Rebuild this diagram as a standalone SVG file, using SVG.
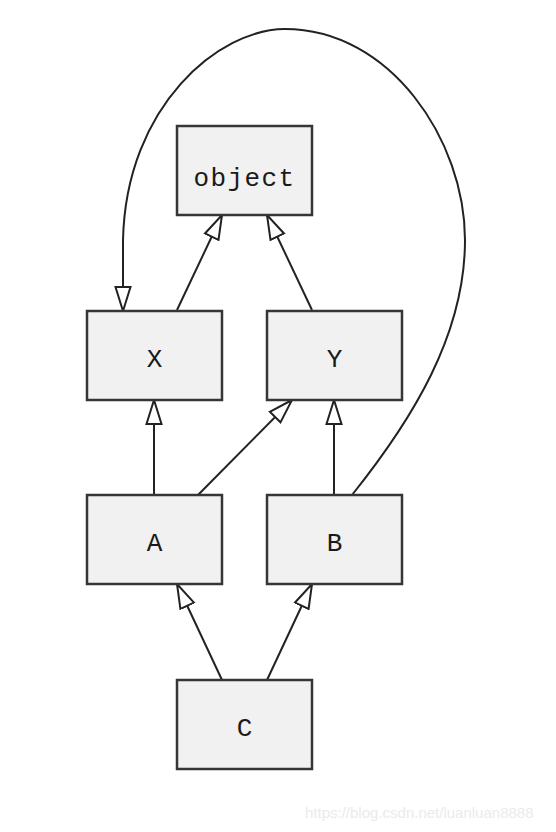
<svg xmlns="http://www.w3.org/2000/svg" width="556" height="832" viewBox="0 0 556 832">
<style>
.node rect{fill:#f1f1f1;stroke:#363636;stroke-width:2.5}
.node text{font-family:"Liberation Mono",monospace;font-size:26px;fill:#1a1a1a;text-anchor:middle}
.edges path{fill:none;stroke:#222;stroke-width:2;marker-end:url(#tri)}
.wm{font-family:"Liberation Sans",Arial,sans-serif;font-size:15px;fill:#ebebeb}
</style>
<defs>
<marker id="tri" viewBox="0 0 26 18" refX="25" refY="9" markerWidth="26" markerHeight="18" markerUnits="userSpaceOnUse" orient="auto">
<path d="M1,1.5 L25,9 L1,16.5 Z" fill="#fff" stroke="#222" stroke-width="2"/>
</marker>
</defs>
<rect width="556" height="832" fill="#fff"/>
<g class="edges">
<path d="M177,310 L222,215"/>
<path d="M312,310 L267,215"/>
<path d="M154,495 L154,400"/>
<path d="M198,495 L292,400"/>
<path d="M334,495 L334,400"/>
<path d="M222,680 L177,584"/>
<path d="M267,680 L312,584"/>
<path d="M352,495 C412,420 465,335 465,240 C465,140 390,29 285,29 C220,29 126,105 123,240 L123,311"/>
</g>
<g id="object" class="node"><rect x="177" y="126" width="135" height="89"/><text x="244.5" y="186" letter-spacing="1.4">object</text></g>
<g id="X" class="node"><rect x="87" y="311" width="135" height="89"/><text x="154.5" y="367">X</text></g>
<g id="Y" class="node"><rect x="267" y="311" width="135" height="89"/><text x="334.5" y="367">Y</text></g>
<g id="A" class="node"><rect x="87" y="495" width="135" height="89"/><text x="154.5" y="551">A</text></g>
<g id="B" class="node"><rect x="267" y="495" width="135" height="89"/><text x="334.5" y="551">B</text></g>
<g id="C" class="node"><rect x="177" y="680" width="135" height="89"/><text x="244.5" y="736">C</text></g>
<text class="wm" x="305" y="818">https://blog.csdn.net/luanluan8888</text>
</svg>
